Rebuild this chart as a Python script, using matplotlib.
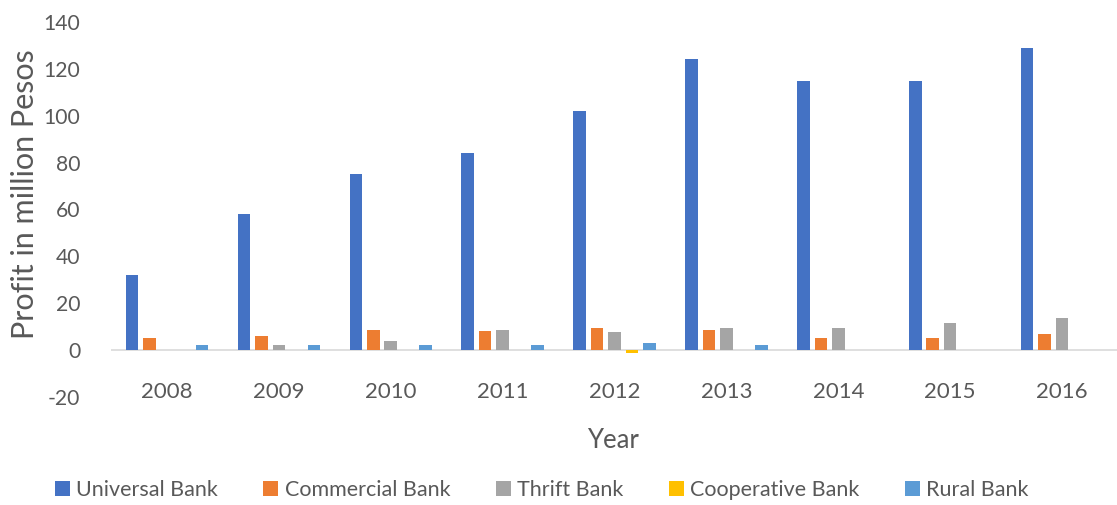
import numpy as np
import matplotlib.pyplot as plt

plt.rcParams['font.family'] = ['Lato', 'DejaVu Sans']
plt.rcParams['axes.unicode_minus'] = False

# Beneficio por tipo de banco (millones de pesos)
years = ['2008', '2009', '2010', '2011', '2012', '2013', '2014', '2015', '2016']
universal = [32, 58, 75, 84, 102, 124, 115, 115, 129]
commercial = [5, 6, 8.5, 8, 9.5, 8.5, 5, 5, 7]
thrift = [0, 2, 4, 8.5, 7.5, 9.5, 9.5, 11.5, 13.5]
cooperative = [0, 0, 0, 0, -1.3, 0, 0, 0, 0]
rural = [2, 2, 2, 2, 3, 2, 0, 0, 0]

series = [
    ('Universal Bank', universal, '#4472C4'),
    ('Commercial Bank', commercial, '#ED7D31'),
    ('Thrift Bank', thrift, '#A5A5A5'),
    ('Cooperative Bank', cooperative, '#FFC000'),
    ('Rural Bank', rural, '#5B9BD5'),
]

gray = '#595959'

fig = plt.figure(figsize=(11.17, 5.05), dpi=100)
ax = fig.add_axes([0.0994, 0.214, 0.9015, 0.7426])

x = np.arange(len(years))
slot = 0.156
width = 0.112
for i, (name, vals, color) in enumerate(series):
    ax.bar(x + (i - 2) * slot, vals, width, color=color, label=name, linewidth=0)

ax.set_xlim(-0.5, len(years) - 0.5)
ax.set_ylim(-20, 140)
ax.set_yticks(range(-20, 141, 20))
ax.tick_params(axis='y', length=0, pad=22, labelsize=15.2, labelcolor=gray)
ax.set_xticks([])

for s in ax.spines.values():
    s.set_visible(False)
ax.axhline(0, color='#D9D9D9', linewidth=1.2, zorder=0)

# etiquetas de años en la parte baja
for xi, yr in zip(x, years):
    ax.text(xi, -18, yr, ha='center', va='center', fontsize=16, color=gray)

ax.set_ylabel('Profit in million Pesos', fontsize=22, color=gray, labelpad=4)
ax.yaxis.set_label_coords(-0.072, 0.54)
fig.text(0.549, 0.128, 'Year', ha='center', va='center', fontsize=18.5, color=gray)

fig.legend(loc='center', bbox_to_anchor=(0.485, 0.03), ncol=5, frameon=False,
           fontsize=15.5, handlelength=0.7, handleheight=0.7, columnspacing=2.1,
           handletextpad=0.3, labelcolor=gray)

fig.savefig('out.png', dpi=100)
